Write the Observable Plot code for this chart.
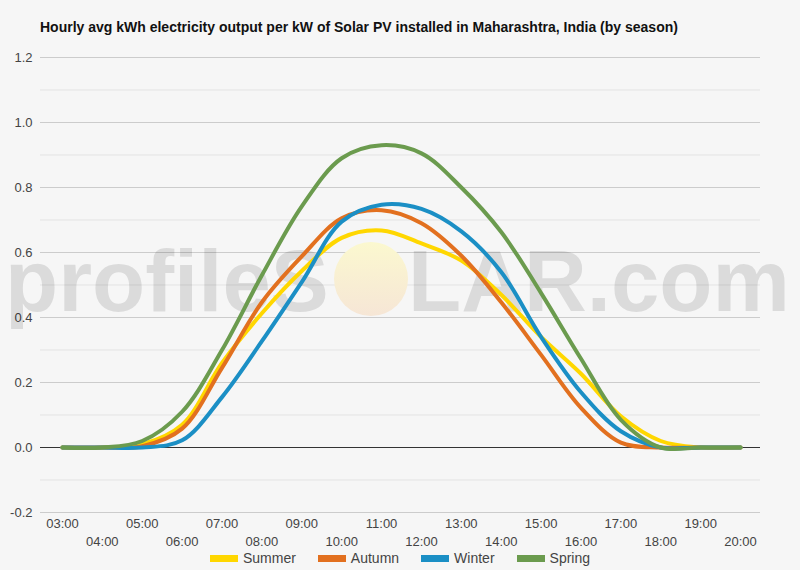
<!DOCTYPE html>
<html><head><meta charset="utf-8">
<script src="https://cdn.jsdelivr.net/npm/d3@7"></script>
<script src="https://cdn.jsdelivr.net/npm/@observablehq/plot@0.6"></script>
<style>
body{margin:0;background:#f6f6f6;font-family:"Liberation Sans",Arial,sans-serif;}
#wrap{position:relative;width:800px;height:570px;overflow:hidden;background:#f6f6f6;}
#title{position:absolute;left:40px;top:19px;font-size:14px;font-weight:bold;color:#111;white-space:nowrap;}
#chart{position:absolute;left:0;top:45px;}
#legend{position:absolute;left:0;top:550px;width:800px;display:flex;justify-content:center;gap:22px;font-size:14px;color:#444;line-height:16px;}
.item{display:flex;align-items:center;gap:5px}
.sw{width:28px;height:7px}
</style>
</head><body>
<div id="wrap">
<div id="title">Hourly avg kWh electricity output per kW of Solar PV installed in Maharashtra, India (by season)</div>
<div id="chart"></div>
<div id="legend"></div>
</div>
<script>
const hours = [3,4,5,6,7,8,9,10,11,12,13,14,15,16,17,18,19,20];
const hourLabels = ["03:00","04:00","05:00","06:00","07:00","08:00","09:00","10:00","11:00","12:00","13:00","14:00","15:00","16:00","17:00","18:00","19:00","20:00"];
const seasons = ["Summer","Autumn","Winter","Spring"];
const seasonColors = ["#ffd700","#e2701f","#1b8fc5","#6b9b4e"];
const summer = [0,0,0.01,0.07,0.26,0.413,0.543,0.645,0.668,0.628,0.575,0.47,0.34,0.227,0.096,0.02,0,0];
const autumn = [0,0,0.004,0.058,0.245,0.447,0.588,0.705,0.73,0.69,0.59,0.447,0.285,0.122,0.015,0,0,0];
const winter = [0,0,0,0.022,0.155,0.327,0.509,0.695,0.747,0.734,0.665,0.54,0.34,0.17,0.05,0,0,0];
const spring = [0,0,0.02,0.11,0.30,0.53,0.742,0.89,0.93,0.905,0.80,0.663,0.475,0.273,0.085,0,0,0];
const yTicks = [-0.2,0,0.2,0.4,0.6,0.8,1.0,1.2];
const yMinorTicks = [-0.1,0.1,0.3,0.5,0.7,0.9,1.1];

const seriesValues = [summer, autumn, winter, spring];
const rows = [];
seasons.forEach((s, k) => hours.forEach((h, i) => rows.push({season: s, hour: h, value: seriesValues[k][i]})));
const labelOf = h => hourLabels[hours.indexOf(h)];
const oddHours = hours.filter(h => h % 2 === 1);
const evenHours = hours.filter(h => h % 2 === 0);

const chart = Plot.plot({
  width: 800, height: 525,
  marginTop: 12, marginBottom: 58, marginLeft: 40, marginRight: 40,
  style: {background: "transparent", fontFamily: '"Liberation Sans", Arial, sans-serif', fontSize: "13px", color: "#444"},
  x: {domain: [2.45, 20.5]},
  y: {domain: [-0.2, 1.2]},
  color: {domain: seasons, range: seasonColors},
  marks: [
    Plot.gridY(yMinorTicks, {stroke: "#e3e3e3", strokeOpacity: 1}),
    Plot.gridY(yTicks, {stroke: "#cccccc", strokeOpacity: 1}),
    Plot.ruleY([0], {stroke: "#333", strokeWidth: 1}),
    Plot.axisY(yTicks, {tickSize: 0, tickPadding: 8, tickFormat: d => d.toFixed(1), label: null, fill: "#444"}),
    Plot.axisX(oddHours, {tickSize: 0, tickPadding: 6, tickFormat: labelOf, label: null, fill: "#444"}),
    Plot.axisX(evenHours, {tickSize: 0, tickPadding: 24, tickFormat: labelOf, label: null, fill: "#444"}),
    Plot.line(rows, {x: "hour", y: "value", z: "season", stroke: "season", strokeWidth: 4, curve: "catmull-rom"})
  ]
});
document.getElementById("chart").appendChild(chart);

// watermark (decorative)
const svg = d3.select(chart);
const lineG = chart.querySelector('g[aria-label="line"]');
const defs = svg.insert("defs", ":first-child");
const grad = defs.append("linearGradient").attr("id", "sun").attr("x1", 0).attr("y1", 0).attr("x2", 0).attr("y2", 1);
grad.append("stop").attr("offset", "0%").attr("stop-color", "#fbf8cf");
grad.append("stop").attr("offset", "100%").attr("stop-color", "#f6e6d6");
const wm = d3.select(chart.insertBefore(document.createElementNS("http://www.w3.org/2000/svg", "g"), lineG))
  .attr("text-anchor", "start");
wm.append("text").attr("x", 5).attr("y", 266).attr("font-size", 87).attr("font-weight", "bold")
  .attr("text-anchor", "start").attr("fill", "#000").attr("fill-opacity", 0.11).text("profileS");
wm.append("circle").attr("cx", 371).attr("cy", 234).attr("r", 37).attr("fill", "url(#sun)");
wm.append("text").attr("x", 408).attr("y", 266).attr("font-size", 87).attr("font-weight", "bold")
  .attr("text-anchor", "start").attr("fill", "#000").attr("fill-opacity", 0.11).text("LAR.com");

// legend
const legend = d3.select("#legend");
seasons.forEach((s, k) => {
  const it = legend.append("div").attr("class", "item");
  it.append("div").attr("class", "sw").style("background", seasonColors[k]);
  it.append("span").text(s);
});
</script>
</body></html>
